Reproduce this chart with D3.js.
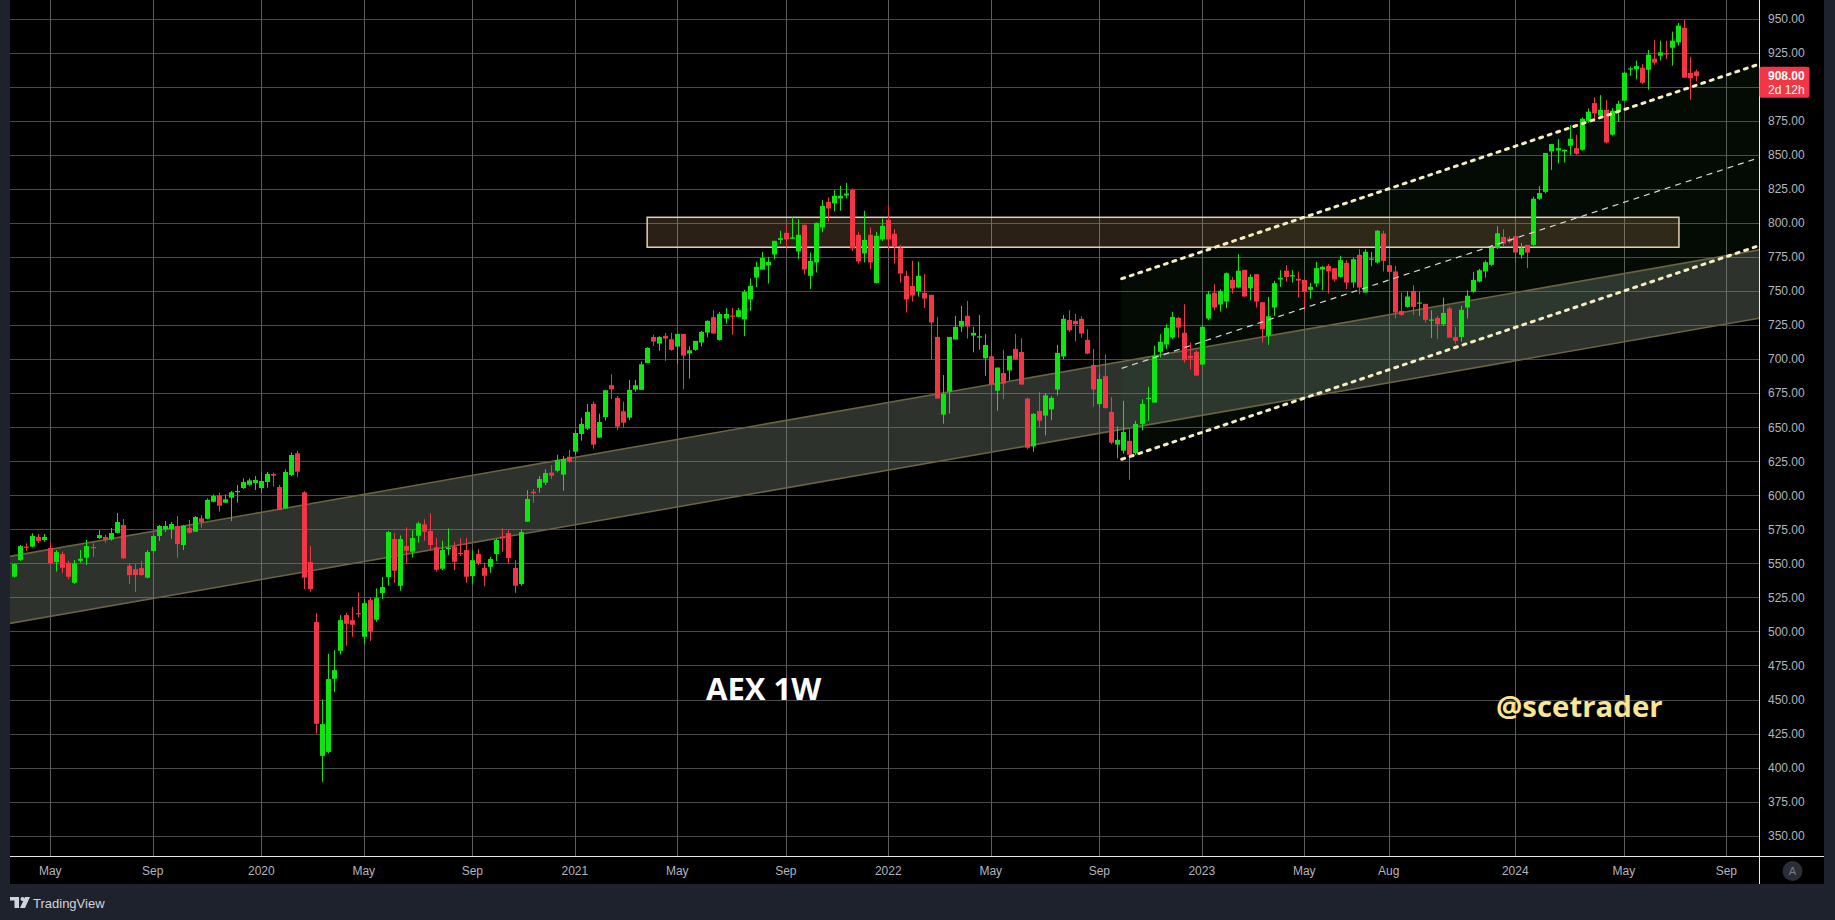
<!DOCTYPE html>
<html><head><meta charset="utf-8">
<script src="https://cdn.jsdelivr.net/npm/d3@7"></script>
<style>html,body{margin:0;padding:0;background:#1e222d;overflow:hidden}</style>
</head><body>
<svg id="c" width="1835" height="920"></svg>
<script>
// ---------- DATA ----------
const firstWeek = "2019-03-25"; // Monday of first weekly bar; each bar = one week
const opens = [
540.2,552.4,562.3,562.3,569.4,567.2,561.3,551.0,556.9,550.5,535.8,551.9,554.2,562.0,568.6,569.4,567.6,572.5,578.2,548.3,
545.8,546.6,539.5,559.1,570.1,575.0,575.2,577.5,563.5,576.0,573.3,583.1,582.8,595.3,600.0,594.6,598.3,602.5,605.4,607.8,
609.1,605.4,609.8,615.7,606.1,590.4,615.0,630.9,
602.2,551.0,506.9,408.6,411.5,465.2,485.8,512.0,508.3,513.5,496.1,523.0,508.6,528.2,540.0,567.9,533.6,562.7,558.6,570.3,
578.7,573.8,561.8,546.1,560.5,562.3,557.8,559.8,540.7,556.9,546.6,547.5,556.9,569.6,572.3,546.6,534.8,580.6,602.7,605.6,
609.3,616.7,618.1,615.2,628.4,
632.1,645.1,649.0,667.2,642.4,
657.5,680.9,671.6,661.8,657.1,677.7,677.5,697.3,716.4,711.5,717.2,714.7,709.3,718.6,704.2,706.9,712.3,719.6,730.9,714.2,
729.9,732.1,731.1,729.2,743.9,760.0,765.9,768.9,777.0,787.7,792.9,788.5,779.2,798.8,761.3,771.1,796.8,815.7,814.5,818.1,
820.3,824.5,791.4,777.7,791.4,756.1,788.0,802.5,792.2,781.6,761.3,753.9,749.8,748.8,747.3,716.4,659.3,676.2,714.5,724.0,
731.9,717.4,715.9,700.7,702.2,676.9,689.9,691.7,707.6,705.4,671.1,636.0,662.0,658.6,663.2,677.7,702.0,728.9,728.2,729.7,
714.2,695.8,667.0,
687.5,661.3,637.3,632.8,640.0,631.1,652.5,671.1,668.1,705.4,710.8,715.9,730.4,719.4,702.5,705.4,696.1,729.9,748.8,740.2,
742.4,758.3,752.7,765.7,752.2,762.5,741.9,717.2,738.0,758.6,765.0,760.8,759.1,758.3,751.0,755.6,765.9,768.6,766.9,760.5,
770.8,756.4,776.7,749.0,773.3,771.1,792.4,769.1,
764.5,735.5,738.5,750.2,740.9,740.7,728.4,730.4,725.7,737.3,716.4,716.4,738.0,749.5,757.1,764.5,769.4,781.6,789.9,788.7,
790.4,776.7,784.0,784.0,817.9,823.0,852.7,853.4,852.7,856.9,855.1,853.9,875.2,888.2,878.9,883.3,865.0,882.1,890.0,913.0,
913.0,914.2,912.7,920.8,923.0,924.8,928.9,932.8,943.6,910.5,911.5];
const highs = [
550.0,563.5,564.7,572.1,571.6,571.6,566.2,559.8,558.8,552.0,552.4,559.8,567.2,564.7,574.5,571.3,576.0,587.0,582.6,550.0,
549.5,551.7,559.8,570.8,578.2,581.1,580.4,584.8,578.2,581.9,584.8,585.5,597.8,600.7,602.0,600.7,603.2,607.6,612.5,612.5,
614.2,616.7,617.2,616.7,607.6,619.1,631.4,632.6,
603.2,562.7,513.5,450.0,483.6,486.3,512.0,513.7,518.1,528.7,523.8,525.0,531.6,540.0,573.8,572.3,570.6,576.5,574.5,580.6,
582.4,586.8,568.6,566.7,575.7,565.7,568.6,568.6,559.6,560.5,550.5,554.9,568.1,575.7,574.5,552.4,575.0,603.9,604.7,614.2,
619.1,622.3,629.9,628.9,633.3,
648.0,656.9,667.2,668.9,660.0,
677.5,689.0,673.0,668.9,684.8,684.8,698.3,708.8,718.1,716.9,719.4,719.4,718.6,718.6,709.5,713.5,720.8,728.7,736.0,734.8,
737.7,737.7,737.7,751.0,759.3,771.6,778.9,775.2,787.0,794.4,798.8,804.6,802.9,798.8,778.4,800.5,816.9,818.9,824.2,827.4,
829.6,825.5,793.7,809.1,796.8,793.7,803.4,812.7,795.6,784.1,765.0,772.3,771.6,762.5,747.3,731.1,688.4,716.4,731.9,739.2,
742.9,723.8,732.6,718.6,713.9,693.9,706.9,702.5,718.6,715.4,671.8,660.5,676.0,675.2,672.8,710.5,732.6,736.0,733.3,731.6,
722.0,707.6,689.0,
703.4,672.1,650.7,669.4,649.3,654.7,670.6,679.7,709.8,718.4,725.7,734.8,731.1,740.4,712.3,706.6,725.0,750.2,755.1,751.5,
763.7,760.5,777.2,765.7,762.5,762.5,741.9,745.8,757.6,765.4,769.1,765.4,764.5,758.3,756.1,771.6,768.6,769.9,766.9,776.0,
772.8,774.8,780.9,780.9,778.9,795.1,794.4,780.9,
768.6,748.8,750.2,754.4,749.5,740.7,736.0,731.9,745.3,738.8,723.8,739.2,750.7,764.2,766.4,772.6,783.8,797.8,795.6,790.4,
790.4,785.5,784.0,819.4,827.2,851.5,858.1,861.8,854.2,872.1,864.9,877.7,884.3,892.4,894.0,890.7,884.5,889.9,911.0,914.9,
919.4,916.9,927.2,934.5,934.1,934.1,940.7,947.1,949.5,922.3,912.7];
const lows = [
539.5,551.9,559.1,561.8,565.0,565.9,549.5,543.9,543.1,538.2,534.8,550.5,548.8,554.9,567.9,565.2,566.7,572.0,553.2,534.8,
528.9,541.0,539.0,557.4,566.4,573.0,568.1,554.2,559.8,572.0,573.3,576.2,582.4,594.9,588.0,594.4,581.1,594.6,604.7,607.1,
603.9,602.0,605.6,606.4,589.2,590.0,614.2,613.7,
531.1,529.2,425.2,389.5,410.3,455.6,483.1,489.5,496.1,510.3,491.0,493.1,507.1,524.0,533.6,535.8,529.9,550.0,554.4,565.2,
566.7,560.3,543.9,545.1,556.1,545.1,555.4,535.8,535.0,548.8,533.3,543.1,551.7,558.6,550.0,528.4,533.6,580.6,594.6,602.0,
607.6,612.0,616.9,603.4,624.0,
629.7,640.2,648.0,634.3,642.4,
655.0,670.6,648.0,649.7,655.2,676.2,677.5,697.1,709.8,706.2,698.8,706.2,696.3,678.0,685.8,706.2,709.3,716.0,718.4,713.7,
726.2,718.1,730.6,716.9,735.6,753.2,765.9,755.6,773.5,784.8,782.1,788.3,773.5,762.5,751.7,763.7,793.2,801.2,808.6,809.1,
818.1,779.7,770.3,771.1,766.2,755.6,787.0,780.2,770.3,756.4,734.3,742.4,746.1,737.7,699.8,671.1,652.7,660.0,714.5,720.1,
715.2,705.1,707.1,687.8,681.4,662.2,670.6,684.3,699.8,681.4,633.8,632.1,649.7,644.1,655.2,673.3,700.0,720.1,713.1,715.9,
703.7,665.2,665.0,
663.7,637.5,627.2,630.6,611.5,629.7,647.8,654.7,668.1,701.2,707.4,714.7,715.9,697.5,692.6,688.0,696.1,728.7,736.0,735.0,
737.5,748.3,752.2,746.1,743.4,738.0,712.3,710.5,731.9,753.2,757.1,756.4,745.3,736.0,744.6,753.2,750.7,748.3,756.9,760.0,
751.5,752.7,747.8,749.0,768.4,770.3,764.5,761.8,
730.0,731.9,738.0,732.6,731.9,726.9,715.6,714.9,724.5,715.9,711.5,713.0,729.9,748.8,756.5,760.0,768.6,781.0,782.6,785.3,
771.3,774.0,766.9,783.3,817.2,821.8,839.1,843.9,844.6,850.0,850.2,853.2,873.9,874.4,878.4,858.6,864.3,874.4,890.0,908.3,
905.6,902.2,898.1,916.4,919.6,920.6,915.7,930.4,906.9,890.7,904.2];
const closes = [
549.5,562.7,561.5,570.1,566.4,569.4,550.0,558.3,546.8,540.2,550.0,553.4,562.7,561.3,570.8,567.2,572.3,580.4,553.7,541.4,
541.4,541.4,558.3,570.1,577.5,577.5,578.9,564.2,577.5,572.5,584.1,580.4,596.6,599.5,592.4,597.1,602.2,603.2,609.8,611.0,
611.3,610.5,615.7,614.5,589.2,617.2,629.7,617.4,
539.5,531.1,432.1,431.9,465.0,471.6,508.3,505.6,504.9,512.7,520.8,499.8,524.5,532.6,573.0,544.6,567.9,559.3,568.6,579.4,
573.3,563.5,545.3,559.8,561.5,551.2,556.9,540.2,552.4,550.0,540.9,553.2,567.2,568.4,553.9,533.6,573.0,597.3,601.5,612.0,
616.4,614.5,626.0,626.7,625.0,
645.8,652.4,661.3,637.3,653.9,
677.2,678.0,650.5,653.4,677.5,680.9,696.3,708.3,713.0,716.4,715.2,706.9,718.6,702.7,706.6,713.5,720.1,728.2,718.9,733.3,
733.3,731.4,736.0,749.5,753.9,767.9,774.5,771.6,787.0,789.0,788.0,789.5,791.4,765.9,772.3,800.2,812.7,810.8,820.1,820.1,
821.8,781.4,771.8,787.7,771.1,790.7,798.0,788.0,782.8,763.0,743.9,746.8,761.3,744.6,727.0,671.1,674.5,716.4,723.8,728.2,
724.0,719.4,716.9,710.5,681.4,693.9,682.1,702.5,699.8,681.4,635.0,659.8,654.9,673.5,671.6,704.7,729.7,721.3,725.7,718.9,
704.2,677.7,685.5,
664.2,638.7,640.7,646.6,629.7,652.5,667.2,671.6,702.5,712.8,723.0,731.1,723.3,699.3,700.7,688.0,723.8,747.8,738.0,750.2,
763.2,752.0,765.0,746.1,760.5,742.4,722.1,731.6,755.9,759.8,760.5,761.8,757.8,749.5,753.2,766.9,767.9,764.5,758.6,772.8,
756.4,773.5,752.7,778.9,774.0,794.4,772.3,764.2,
734.3,732.6,746.1,738.5,741.7,728.9,729.2,725.7,734.0,715.9,713.5,736.3,746.6,758.3,765.4,771.3,782.1,792.6,785.0,786.5,
778.4,781.6,778.4,817.9,822.1,851.5,858.1,855.1,853.9,862.0,851.0,876.7,881.9,880.6,883.3,859.3,882.6,887.7,910.5,913.7,
915.4,903.2,923.8,917.9,925.5,924.3,934.1,945.1,906.9,906.4,908.0];

const priceTicks = [350,375,400,425,450,475,500,525,550,575,600,625,650,675,700,725,750,775,800,825,850,875,900,925,950];
const hiddenPriceLabels = [900];
const timeTickDates  = ["2019-05-06","2019-09-02","2020-01-06","2020-05-04","2020-09-07","2021-01-04","2021-05-03","2021-09-06","2022-01-03","2022-05-02","2022-09-05","2023-01-02","2023-05-01","2023-08-07","2024-01-01","2024-05-06","2024-09-02"];
const timeTickLabels = ["May","Sep","2020","May","Sep","2021","May","Sep","2022","May","Sep","2023","May","Aug","2024","May","Sep"];
const lastPrice = 908.00;
const countdown = "2d 12h";

// drawings (date, price)
const bandDates   = ["2019-03-09","2024-10-23"];
const bandUpper   = [553.9, 781.8];
const bandLower   = [504.7, 731.6];
const channelDates = ["2022-10-01","2024-10-23"];
const channelUpper = [759.2, 919.6];
const channelLower = [626.5, 786.2];
const channelMid   = [693.3, 850.8];
const zoneDates  = ["2021-03-29","2024-07-09"];
const zonePrices = [804.3, 782.3];
const titleText = "AEX 1W";
const authorText = "@scetrader";

// ---------- LAYOUT ----------
const W = 1835, H = 920;
const plotL = 10, plotR = 1759, plotT = 0, plotB = 856;
const panelR = 1824, panelB = 884;
const green = "#0de50f", red = "#f23645";
const P = d => new Date(d + "T00:00:00Z");

const x = d3.scaleUtc().domain([P("2019-05-06"), P("2024-01-01")]).range([50.3, 1515.3]);
const y = d3.scaleLinear().domain([350, 950]).range([835.6, 19]);

const t0 = P(firstWeek);
const bars = opens.map((o, i) => ({
  date: d3.utcDay.offset(t0, i * 7), o, h: highs[i], l: lows[i], c: closes[i]
}));

const svg = d3.select("#c");
svg.append("rect").attr("width", W).attr("height", H).attr("fill", "#1e222d");
svg.append("rect").attr("x", plotL).attr("y", 0).attr("width", panelR - plotL).attr("height", panelB).attr("fill", "#000");

const defs = svg.append("defs");
defs.append("clipPath").attr("id", "plotclip").append("rect")
  .attr("x", plotL).attr("y", plotT).attr("width", plotR - plotL).attr("height", plotB - plotT);

const g = svg.append("g").attr("clip-path", "url(#plotclip)");

// grid
g.append("g").selectAll("line").data(priceTicks).join("line")
  .attr("x1", plotL).attr("x2", plotR)
  .attr("y1", d => Math.round(y(d)) + 0.5).attr("y2", d => Math.round(y(d)) + 0.5)
  .attr("stroke", "#4a4a4a").attr("stroke-width", 1);
g.append("g").selectAll("line").data(timeTickDates).join("line")
  .attr("x1", d => Math.round(x(P(d))) + 0.5).attr("x2", d => Math.round(x(P(d))) + 0.5)
  .attr("y1", plotT).attr("y2", plotB)
  .attr("stroke", "#5c5c5c").attr("stroke-width", 1);

// wide band
const bandData = bandDates.map((d, i) => ({ d: P(d), u: bandUpper[i], l: bandLower[i] }));
g.append("path").datum(bandData)
  .attr("d", d3.area().x(p => x(p.d)).y0(p => y(p.l)).y1(p => y(p.u)))
  .attr("fill", "rgba(132,148,132,0.34)");

// channel fill
const chData = channelDates.map((d, i) => ({ d: P(d), u: channelUpper[i], l: channelLower[i], m: channelMid[i] }));
g.append("path").datum(chData)
  .attr("d", d3.area().x(p => x(p.d)).y0(p => y(p.l)).y1(p => y(p.u)))
  .attr("fill", "rgba(40,120,50,0.09)");

// resistance zone
g.append("rect")
  .attr("x", x(P(zoneDates[0]))).attr("width", x(P(zoneDates[1])) - x(P(zoneDates[0])))
  .attr("y", y(zonePrices[0])).attr("height", y(zonePrices[1]) - y(zonePrices[0]))
  .attr("fill", "rgba(240,180,115,0.18)").attr("stroke", "#e2d2b2").attr("stroke-width", 1.5);

// band border lines
["u", "l"].forEach(k => {
  g.append("path").datum(bandData)
    .attr("d", d3.line().x(p => x(p.d)).y(p => y(p[k])))
    .attr("fill", "none").attr("stroke", "#6c6440").attr("stroke-width", 1.6);
});

// candles
const cg = g.append("g");
cg.selectAll("line").data(bars).join("line")
  .attr("x1", b => Math.round(x(b.date)) + 0.5).attr("x2", b => Math.round(x(b.date)) + 0.5)
  .attr("y1", b => y(b.h)).attr("y2", b => y(b.l))
  .attr("stroke", b => b.c >= b.o ? green : red).attr("stroke-width", 1);
cg.selectAll("rect").data(bars).join("rect")
  .attr("x", b => Math.round(x(b.date)) + 0.5 - 2.5).attr("width", 5)
  .attr("y", b => y(Math.max(b.o, b.c)))
  .attr("height", b => Math.max(1.2, Math.abs(y(b.o) - y(b.c))))
  .attr("fill", b => b.c >= b.o ? green : red);

// channel lines
g.append("path").datum(chData)
  .attr("d", d3.line().x(p => x(p.d)).y(p => y(p.m)))
  .attr("fill", "none").attr("stroke", "#d8d8d8").attr("stroke-width", 1.2).attr("stroke-dasharray", "6,5");
["u", "l"].forEach(k => {
  g.append("path").datum(chData)
    .attr("d", d3.line().x(p => x(p.d)).y(p => y(p[k])))
    .attr("fill", "none").attr("stroke", "#f5efc0").attr("stroke-width", 3)
    .attr("stroke-linecap", "round").attr("stroke-dasharray", "3,6");
});

// texts
g.append("text").attr("x", 706).attr("y", 700).text(titleText)
  .attr("fill", "#ffffff").attr("font-family", "'Open Sans', 'Noto Sans', sans-serif")
  .attr("font-weight", 700).attr("font-size", 31);
g.append("text").attr("x", 1496).attr("y", 717).text(authorText)
  .attr("fill", "#f8e690").attr("font-family", "'Open Sans', 'Noto Sans', sans-serif")
  .attr("font-weight", 700).attr("font-size", 29.4);

// axes separators
svg.append("line").attr("x1", plotR + 0.5).attr("x2", plotR + 0.5).attr("y1", 0).attr("y2", panelB)
  .attr("stroke", "#e6e8ee").attr("stroke-width", 1);
svg.append("line").attr("x1", plotL).attr("x2", panelR).attr("y1", plotB + 0.5).attr("y2", plotB + 0.5)
  .attr("stroke", "#e6e8ee").attr("stroke-width", 1);

// price axis labels
svg.append("g").selectAll("text").data(priceTicks.filter(p => !hiddenPriceLabels.includes(p))).join("text")
  .attr("x", 1768).attr("y", d => y(d)).attr("dy", "0.35em")
  .text(d => d3.format(".2f")(d))
  .attr("fill", "#b2b5be").attr("font-family", "'Liberation Sans', Arial, sans-serif").attr("font-size", 12);

// time axis labels
svg.append("g").selectAll("text").data(timeTickDates).join("text")
  .attr("x", d => x(P(d))).attr("y", 871).attr("dy", "0.35em").attr("text-anchor", "middle")
  .text((d, i) => timeTickLabels[i])
  .attr("fill", "#b2b5be").attr("font-family", "'Liberation Sans', Arial, sans-serif").attr("font-size", 12);

// last price label
const ly = y(lastPrice);
svg.append("rect").attr("x", plotR + 0.5).attr("y", ly - 9.5).attr("width", 50).attr("height", 31)
  .attr("rx", 2).attr("fill", red);
svg.append("text").attr("x", 1768).attr("y", ly).attr("dy", "0.35em").text(d3.format(".2f")(lastPrice))
  .attr("fill", "#fff").attr("font-weight", 700).attr("font-family", "'Liberation Sans', Arial, sans-serif").attr("font-size", 12);
svg.append("text").attr("x", 1768).attr("y", ly + 14).attr("dy", "0.35em").text(countdown)
  .attr("fill", "#fff").attr("font-family", "'Liberation Sans', Arial, sans-serif").attr("font-size", 12);

// "A" button
svg.append("circle").attr("cx", 1792.5).attr("cy", 871).attr("r", 10).attr("fill", "#2a2e39");
svg.append("text").attr("x", 1792.5).attr("y", 871).attr("dy", "0.35em").attr("text-anchor", "middle").text("A")
  .attr("fill", "#787b86").attr("font-family", "'Liberation Sans', Arial, sans-serif").attr("font-size", 11);

// TradingView footer
const logo = svg.append("g").attr("fill", "#d1d4dc");
logo.append("rect").attr("x", 10).attr("y", 897).attr("width", 9).attr("height", 3.5);
logo.append("rect").attr("x", 14.5).attr("y", 897).attr("width", 4.5).attr("height", 11);
logo.append("circle").attr("cx", 22.5).attr("cy", 899).attr("r", 2);
logo.append("path").attr("d", "M25,897 L30,897 L25,908 L20,908 Z");
svg.append("text").attr("x", 33).attr("y", 903).attr("dy", "0.35em").text("TradingView")
  .attr("fill", "#d1d4dc").attr("font-family", "'Liberation Sans', Arial, sans-serif").attr("font-size", 13);
</script>
</body></html>
